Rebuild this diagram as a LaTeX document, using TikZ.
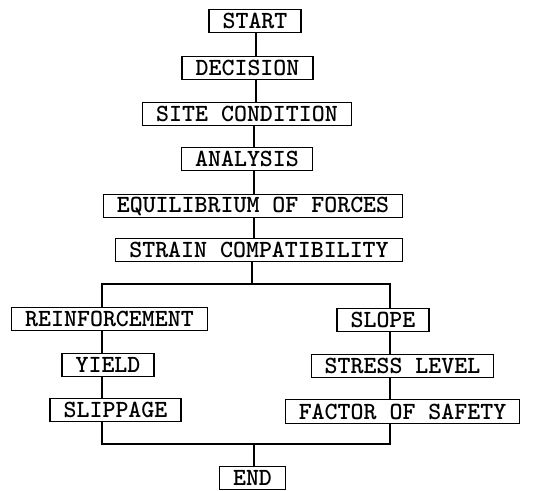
\documentclass[tikz,border=0pt]{standalone}
\begin{document}
\begin{tikzpicture}[x=1pt,y=-1pt,
  box/.style={draw, line width=1.3pt, inner xsep=13.5pt, inner ysep=0pt,
    minimum height=23.5pt, font=\ttfamily\bfseries\fontsize{24.7}{26}\selectfont},
  link/.style={line width=1.3pt}]
\useasboundingbox (0,0) rectangle (546,490);
\node[box] (start) at (255,21) {START};
\node[box] (decision) at (247.5,68) {DECISION};
\node[box] (site) at (247,114) {SITE CONDITION};
\node[box] (analysis) at (247,159) {ANALYSIS};
\node[box] (equil) at (253,206) {EQUILIBRIUM OF FORCES};
\node[box] (strain) at (259,250) {STRAIN COMPATIBILITY};
\node[box] (reinf) at (109.5,319) {REINFORCEMENT};
\node[box] (slope) at (383,320) {SLOPE};
\node[box] (yield) at (108,365) {YIELD};
\node[box] (stress) at (402.5,366) {STRESS LEVEL};
\node[box] (slip) at (115.5,410) {SLIPPAGE};
\node[box] (factor) at (402.5,411.5) {FACTOR OF SAFETY};
\node[box] (end) at (252.5,478) {END};
\coordinate (t1) at (256,0);
\coordinate (t2) at (254,0);
\coordinate (t3) at (252,0);
\coordinate (lb) at (102,0);
\coordinate (rb) at (390,0);
\coordinate (split) at (252,284);
\coordinate (join) at (254,444);
\draw[link] (t1 |- start.south) -- (t1 |- decision.north);
\draw[link] (t1 |- decision.south) -- (t1 |- site.north);
\draw[link] (t2 |- site.south) -- (t2 |- analysis.north);
\draw[link] (t2 |- analysis.south) -- (t2 |- equil.north);
\draw[link] (t2 |- equil.south) -- (t2 |- strain.north);
\draw[link] (t3 |- strain.south) -- (split);
\draw[link] (lb |- reinf.north) -- (lb |- split) -- (rb |- split) -- (rb |- slope.north);
\draw[link] (lb |- reinf.south) -- (lb |- yield.north);
\draw[link] (lb |- yield.south) -- (lb |- slip.north);
\draw[link] (rb |- slope.south) -- (rb |- stress.north);
\draw[link] (rb |- stress.south) -- (rb |- factor.north);
\draw[link] (lb |- slip.south) -- (lb |- join) -- (rb |- join) -- (rb |- factor.south);
\draw[link] (join) -- (end.north -| join);
\end{tikzpicture}
\end{document}
